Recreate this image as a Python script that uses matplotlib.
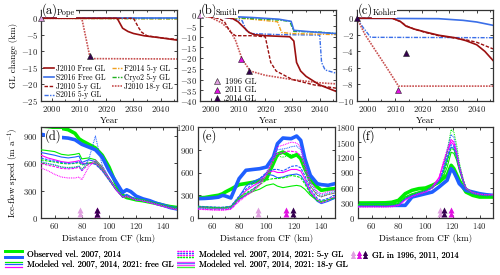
import matplotlib
matplotlib.use("Agg")
import matplotlib.pyplot as plt
from matplotlib.lines import Line2D
from matplotlib.legend_handler import HandlerBase
from matplotlib.ticker import MultipleLocator

plt.rcParams['font.family'] = ['cmr10', 'DejaVu Serif']
plt.rcParams['mathtext.fontset'] = 'cm'
plt.rcParams['axes.formatter.use_mathtext'] = True
plt.rcParams['font.size'] = 6.5

# ---------------- colours ----------------
C_J = '#9b1010'
C_J18 = '#c85050'
C_S = '#3b6fe8'
C_F = '#f0a020'
C_C = '#20b020'
G = '#00ee00'
B = '#1f5fff'
M = '#ff00ff'
GL_COLS = ['#e0a0e0', '#e010e0', '#35004f']

# ---------------- top row data (GL change, km) ----------------
a_yr_Jfree = [1996, 2024, 2025, 2026, 2028, 2030, 2034, 2040, 2046]
a_gl_Jfree = [0, 0, -1.5, -3.0, -4.0, -4.6, -5.3, -5.9, -6.6]
a_yr_J5 = [1996, 2030, 2031, 2032, 2033, 2035, 2040, 2046]
a_gl_J5 = [0, 0, -1.5, -3.0, -4.2, -5.3, -5.9, -6.4]
a_yr_J18 = [1996, 2011, 2014, 2015, 2046]
a_gl_J18 = [0, 0, -11.8, -12.2, -12.3]
a_yr_Sfree = [1996, 2046]
a_gl_Sfree = [0, 0]
a_yr_S5 = [1996, 2046]
a_gl_S5 = [0, -0.05]
a_yr_F5 = [1996, 2046]
a_gl_F5 = [0, -0.2]
a_yr_C5 = [1996, 2046]
a_gl_C5 = [0, -0.1]
a_gl_yr = [1996, 2014]
a_gl_val = [0, -11.5]
a_gl_col = [0, 2]

b_yr_Jfree = [1996, 2003, 2008, 2010, 2012, 2014, 2016, 2020, 2029, 2030.5, 2031.5, 2033, 2035, 2040, 2046]
b_gl_Jfree = [0, -0.5, -1.5, -3, -5.5, -8, -9, -9.5, -10, -12, -22, -26, -28.5, -32.5, -35.5]
b_yr_J5 = [1996, 2003, 2005, 2007, 2009, 2015, 2020, 2021, 2022, 2024, 2030, 2038, 2046]
b_gl_J5 = [0, -1.5, -3, -7.5, -9.5, -9.5, -10, -16, -22, -26, -30, -32.5, -34]
b_yr_J18 = [1996, 2000, 2004, 2007, 2009, 2011.5, 2014.5, 2020, 2030, 2040, 2046]
b_gl_J18 = [0, -1, -3.5, -7, -11.5, -20.5, -26, -28, -30, -31.5, -32]
b_yr_Sfree = [1996, 2005, 2015, 2025, 2029.5, 2030.5, 2035, 2040, 2046]
b_gl_Sfree = [0, -0.4, -1, -1.8, -2.8, -7, -7.5, -8, -8.5]
b_yr_C5 = [1996, 2005, 2015, 2025, 2029, 2030.5, 2040, 2046]
b_gl_C5 = [0, -0.8, -1.5, -2.2, -2.8, -7.5, -7.8, -8.5]
b_yr_F5 = [1996, 2005, 2015, 2024.5, 2026, 2030, 2040, 2046]
b_gl_F5 = [0, -0.8, -1.8, -3, -8, -8.5, -8.8, -9]
b_yr_S5 = [1996, 2005, 2011.5, 2013, 2015, 2025, 2040, 2040.7, 2042, 2046]
b_gl_S5 = [0, -1, -2.5, -7, -8.5, -9, -9.2, -22, -25.5, -27]
b_gl_yr = [1996, 2011, 2014]
b_gl_val = [0, -20.5, -26]
b_gl_col = [0, 1, 2]

c_yr_Sfree = [1996, 2026, 2035, 2040, 2046]
c_gl_Sfree = [0, -0.05, -0.25, -0.45, -0.85]
c_yr_Jfree = [1996, 2009, 2012, 2014, 2017, 2021, 2026, 2032, 2036, 2040, 2043, 2046]
c_gl_Jfree = [0, 0, -0.4, -0.95, -1.3, -1.65, -2.05, -2.35, -2.7, -3.2, -4.0, -5.1]
c_yr_J5 = [1996, 2009, 2012, 2014, 2017, 2021, 2026, 2032, 2036, 2040, 2043, 2046]
c_gl_J5 = [0, 0, -0.4, -0.9, -1.3, -1.7, -2.1, -2.4, -2.6, -2.9, -3.3, -3.7]
c_yr_S5 = [1996, 1998, 2001, 2046]
c_gl_S5 = [0, -1, -2.3, -2.35]
c_yr_J18 = [1996, 1999, 2003, 2007, 2010.5, 2011.2, 2046]
c_gl_J18 = [0, -2, -4, -6, -7.8, -8.2, -8.2]
c_gl_yr = [1996, 2011, 2014]
c_gl_val = [0, -8.7, -4.2]
c_gl_col = [2, 1, 2]

# ---------------- bottom row data (speed, m/a) ----------------
xd = [50, 55, 60, 65, 70, 75, 78, 80, 85, 90, 95, 100, 105, 110, 113, 116, 120, 125, 130, 135, 140, 145, 150]
d_obs07 = [1010, 1005, 995, 985, 970, 930, 870, 850, 810, 770, 690, 560, 380, 250, 225, 215, 200, 190, 175, 160, 140, 125, 115]
d_obs14 = [920, 905, 895, 885, 878, 860, 830, 810, 780, 750, 670, 520, 400, 280, 310, 290, 240, 210, 190, 160, 140, 115, 100]
d_g_free = [750, 740, 730, 700, 690, 700, 710, 650, 660, 640, 560, 440, 330, 240, 240, 225, 210, 200, 180, 160, 140, 120, 105]
d_b_free = [720, 705, 690, 670, 660, 670, 680, 610, 640, 620, 540, 430, 320, 235, 260, 235, 205, 195, 175, 155, 135, 115, 100]
d_m_free = [690, 660, 640, 620, 610, 620, 630, 600, 600, 600, 520, 420, 310, 230, 235, 220, 200, 190, 170, 150, 130, 110, 95]
d_g_5 = [640, 625, 615, 600, 595, 600, 610, 580, 610, 600, 530, 420, 320, 230, 235, 220, 205, 195, 175, 155, 135, 115, 100]
d_b_5 = [660, 640, 625, 610, 600, 605, 620, 590, 600, 590, 520, 415, 315, 228, 250, 230, 200, 190, 172, 152, 132, 112, 98]
d_m_5 = [600, 580, 565, 545, 540, 545, 560, 520, 590, 610, 540, 430, 320, 230, 235, 220, 200, 190, 170, 150, 130, 110, 95]
d_g_18 = [610, 595, 580, 560, 555, 560, 570, 540, 600, 620, 540, 430, 320, 230, 240, 220, 205, 195, 175, 155, 135, 115, 100]
d_b_18 = [620, 600, 585, 560, 550, 555, 570, 520, 640, 900, 580, 440, 320, 230, 250, 225, 200, 190, 172, 152, 132, 112, 98]
d_m_18 = [550, 520, 480, 450, 440, 440, 450, 420, 560, 640, 560, 440, 320, 230, 240, 220, 200, 190, 170, 150, 130, 110, 95]
d_gl_x = [79, 91, 91]

xe = [50, 55, 60, 65, 68, 70, 74, 80, 85, 90, 95, 100, 105, 108, 112, 115, 118, 122, 125, 128, 132, 137, 140, 145, 150]
e_obs14 = [255, 258, 264, 275, 299, 290, 264, 519, 629, 640, 650, 672, 804, 980, 1055, 1050, 1046, 1081, 1024, 782, 563, 453, 440, 431, 453]
e_obs07 = [264, 270, 286, 300, 320, 343, 380, 440, 455, 470, 490, 519, 720, 840, 870, 840, 804, 835, 782, 650, 500, 409, 365, 380, 387]
e_g_free = [140, 135, 130, 128, 128, 130, 140, 250, 300, 350, 380, 430, 450, 420, 400, 410, 420, 430, 420, 380, 300, 230, 220, 240, 260]
e_b_free = [150, 145, 140, 138, 138, 140, 150, 280, 420, 480, 520, 580, 560, 530, 540, 560, 570, 580, 560, 480, 330, 220, 190, 220, 260]
e_m_free = [145, 140, 135, 132, 132, 135, 145, 260, 360, 420, 480, 600, 620, 600, 600, 620, 640, 640, 620, 520, 350, 240, 200, 240, 280]
e_g_5 = [150, 145, 140, 138, 138, 140, 150, 270, 330, 380, 440, 500, 520, 520, 530, 540, 560, 550, 530, 450, 320, 230, 210, 240, 270]
e_b_5 = [155, 150, 145, 142, 142, 145, 155, 290, 380, 450, 520, 600, 640, 640, 620, 650, 680, 690, 660, 560, 380, 260, 230, 260, 300]
e_m_5 = [120, 115, 110, 108, 108, 110, 120, 230, 300, 360, 440, 560, 760, 850, 860, 880, 880, 870, 820, 650, 420, 300, 280, 310, 330]
e_g_18 = [150, 145, 140, 138, 138, 140, 150, 260, 320, 360, 440, 560, 780, 820, 800, 820, 840, 830, 800, 640, 420, 300, 280, 310, 330]
e_b_18 = [130, 125, 120, 118, 118, 120, 130, 240, 310, 380, 470, 600, 820, 900, 910, 920, 940, 950, 900, 700, 460, 330, 300, 330, 350]
e_m_18 = [115, 110, 105, 103, 103, 105, 115, 220, 290, 350, 430, 580, 800, 940, 960, 980, 1000, 990, 930, 720, 480, 350, 320, 350, 370]
e_gl_x = [94, 114, 119]

xf = [50, 55, 60, 65, 70, 75, 80, 85, 90, 95, 100, 105, 110, 113, 116, 119, 121, 123, 125, 128, 130, 135, 140, 145, 150]
f_obs14 = [250, 250, 250, 250, 250, 250, 250, 250, 415, 448, 481, 514, 613, 680, 745, 976, 910, 800, 679, 600, 547, 514, 481, 460, 448]
f_obs07 = [297, 297, 298, 299, 300, 310, 349, 481, 547, 580, 593, 646, 712, 780, 844, 1042, 976, 860, 745, 600, 514, 448, 415, 415, 415]
f_g_free = [270, 270, 270, 270, 270, 275, 300, 420, 480, 520, 560, 620, 700, 800, 1000, 1300, 1280, 1150, 950, 700, 580, 480, 440, 420, 420]
f_b_free = [240, 240, 240, 240, 240, 245, 270, 390, 460, 500, 540, 600, 720, 900, 1150, 1400, 1380, 1200, 980, 720, 580, 480, 450, 440, 440]
f_m_free = [230, 230, 230, 230, 230, 235, 260, 370, 440, 490, 530, 620, 800, 1050, 1300, 1500, 1450, 1250, 1000, 720, 580, 490, 460, 450, 450]
f_g_5 = [260, 260, 260, 260, 260, 265, 290, 410, 470, 510, 550, 610, 700, 850, 1100, 1380, 1350, 1200, 980, 720, 580, 480, 440, 430, 430]
f_b_5 = [235, 235, 235, 235, 235, 240, 265, 380, 450, 495, 540, 610, 750, 950, 1200, 1450, 1420, 1250, 1000, 730, 590, 490, 460, 450, 450]
f_m_5 = [225, 225, 225, 225, 225, 230, 255, 360, 430, 480, 520, 600, 780, 1050, 1300, 1550, 1500, 1300, 1020, 740, 590, 500, 470, 460, 460]
f_g_18 = [255, 255, 255, 255, 255, 260, 285, 400, 460, 500, 540, 600, 690, 850, 1300, 1750, 1700, 1450, 1100, 760, 600, 500, 460, 450, 450]
f_b_18 = [230, 230, 230, 230, 230, 235, 260, 370, 440, 490, 530, 600, 720, 950, 1350, 1650, 1600, 1350, 1050, 740, 590, 490, 460, 450, 450]
f_m_18 = [215, 215, 215, 215, 215, 220, 245, 350, 420, 470, 510, 580, 760, 1100, 1350, 1550, 1500, 1300, 1020, 740, 590, 500, 470, 460, 460]
f_gl_x = [111, 119, 114]

# ---------------- figure ----------------
fig = plt.figure(figsize=(5, 2.75), dpi=100)
W, H = 500, 275

def add_ax(l, r, t, b):
    return fig.add_axes([l / W, 1 - b / H, (r - l) / W, (b - t) / H])

ax_a = add_ax(41, 177, 10, 101)
ax_b = add_ax(200, 336, 10, 101)
ax_c = add_ax(357, 493, 10, 101)
ax_d = add_ax(41, 177, 127, 218)
ax_e = add_ax(198, 335, 127, 218)
ax_f = add_ax(358, 493, 127, 218)

def style(ax):
    ax.tick_params(direction='in', top=True, right=True, length=2.5, width=0.6,
                   labelsize=6.3, pad=2, colors='#222222')
    ax.tick_params(which='minor', direction='in', top=True, right=True, length=1.5, width=0.5)
    for s in ax.spines.values():
        s.set_linewidth(0.9)
        s.set_color('#333333')

def plot_top(ax, d):
    for (x, y, c, ls, lw) in d:
        ax.plot(x, y, color=c, ls=ls, lw=lw)

LS_J5 = (0, (2.5, 1.2))
LS_DD = (0, (3, 1, 1, 1))
LS_18 = (0, (1, 0.7))

lines_a = [
    (a_yr_S5, a_gl_S5, C_S, LS_DD, 1.0),
    (a_yr_F5, a_gl_F5, C_F, LS_DD, 1.0),
    (a_yr_C5, a_gl_C5, C_C, LS_DD, 1.0),
    (a_yr_Sfree, a_gl_Sfree, C_S, '-', 1.2),
    (a_yr_J18, a_gl_J18, C_J18, LS_18, 1.2),
    (a_yr_J5, a_gl_J5, C_J, LS_J5, 1.0),
    (a_yr_Jfree, a_gl_Jfree, C_J, '-', 1.2),
]
lines_b = [
    (b_yr_S5, b_gl_S5, C_S, LS_DD, 1.0),
    (b_yr_F5, b_gl_F5, C_F, LS_DD, 1.0),
    (b_yr_C5, b_gl_C5, C_C, LS_DD, 1.0),
    (b_yr_Sfree, b_gl_Sfree, C_S, '-', 1.2),
    (b_yr_J18, b_gl_J18, C_J18, LS_18, 1.2),
    (b_yr_J5, b_gl_J5, C_J, LS_J5, 1.0),
    (b_yr_Jfree, b_gl_Jfree, C_J, '-', 1.2),
]
lines_c = [
    (c_yr_S5, c_gl_S5, C_S, LS_DD, 1.0),
    (c_yr_Sfree, c_gl_Sfree, C_S, '-', 1.2),
    (c_yr_J18, c_gl_J18, C_J18, LS_18, 1.2),
    (c_yr_J5, c_gl_J5, C_J, LS_J5, 1.0),
    (c_yr_Jfree, c_gl_Jfree, C_J, '-', 1.2),
]

for ax, lns, yl, step, gx, gy, gc in [
        (ax_a, lines_a, (-25, 2.5), 5, a_gl_yr, a_gl_val, a_gl_col),
        (ax_b, lines_b, (-40, 2.5), 5, b_gl_yr, b_gl_val, b_gl_col),
        (ax_c, lines_c, (-10, 1.0), 2, c_gl_yr, c_gl_val, c_gl_col)]:
    plot_top(ax, lns)
    for x, y, ci in zip(gx, gy, gc):
        ax.plot([x], [y], marker='^', ms=4.5, color=GL_COLS[ci], mec='#222222', mew=0.4,
                ls='none', clip_on=False, zorder=5)
    ax.set_xlim(1996, 2046)
    ax.set_ylim(*yl)
    ax.xaxis.set_major_locator(MultipleLocator(10))
    ax.xaxis.set_minor_locator(MultipleLocator(5))
    ax.yaxis.set_major_locator(MultipleLocator(step))
    ax.set_xlabel('Year', fontsize=6.5, labelpad=2)
    style(ax)

ax_a.set_ylabel('GL change (km)', fontsize=6.5, labelpad=2)

# legend panel (a)
h_leg = [
    Line2D([], [], color=C_J, ls='-', lw=1.2),
    Line2D([], [], color=C_S, ls='-', lw=1.2),
    Line2D([], [], color=C_J, ls=LS_J5, lw=1.0),
    Line2D([], [], color=C_S, ls=LS_DD, lw=1.0),
    Line2D([], [], color=C_F, ls=LS_DD, lw=1.0),
    Line2D([], [], color=C_C, ls=LS_DD, lw=1.0),
    Line2D([], [], color=C_J18, ls=LS_18, lw=1.2),
]
l_leg = ['J2010 Free GL', 'S2016 Free GL', 'J2010 5-y GL', 'S2016 5-y GL',
         'F2014 5-y GL', 'Cryo2 5-y GL', 'J2010 18-y GL']
ax_a.legend(h_leg, l_leg, ncol=2, loc='lower left', bbox_to_anchor=(0.01, 0.0),
            frameon=False, fontsize=5.5, handlelength=1.3, handletextpad=0.25,
            columnspacing=0.9, labelspacing=0.05, borderaxespad=0.1, borderpad=0.1)

hb = [Line2D([], [], marker='^', ms=4, color=c, mec='#222222', mew=0.4, ls='none') for c in GL_COLS]
ax_b.legend(hb, ['1996 GL', '2011 GL', '2014 GL'], loc='lower left', bbox_to_anchor=(0.05, -0.08),
            frameon=False, fontsize=6.0, handlelength=1.2, handletextpad=0.4,
            labelspacing=0.05, borderpad=0.1)

# panel titles
for ax, lab, name, dx in [(ax_a, '(a)', 'Pope', 0.118), (ax_b, '(b)', 'Smith', 0.115), (ax_c, '(c)', 'Kohler', 0.115)]:
    ax.text(0.005, 1.0, lab, transform=ax.transAxes, ha='left', va='center', fontsize=9,
            bbox=dict(fc='white', ec='none', pad=0.1), zorder=10)
    ax.text(dx, 0.965, name, transform=ax.transAxes, ha='left', va='center', fontsize=6,
            bbox=dict(fc='white', ec='none', pad=0.2), zorder=10)

# bottom panels
def plot_bottom(ax, x, obs07, obs14, gf, bf, mf, g5, b5, m5, g18, b18, m18, glx, ylim, lab):
    ax.plot(x, obs07, color=G, lw=2.6, zorder=2)
    ax.plot(x, obs14, color=B, lw=2.6, zorder=2)
    for y, c in [(gf, G), (bf, B), (mf, M)]:
        ax.plot(x, y, color=c, lw=0.8, ls='-', zorder=3)
    for y, c in [(g5, G), (b5, B), (m5, M)]:
        ax.plot(x, y, color=c, lw=0.8, ls=(0, (2.5, 1)), zorder=3)
    for y, c in [(g18, G), (b18, B), (m18, M)]:
        ax.plot(x, y, color=c, lw=0.8, ls=(0, (0.8, 0.8)), zorder=3)
    tr = ax.get_xaxis_transform()
    for gxv, c in zip(glx, GL_COLS):
        for yy in (0.04, 0.09):
            ax.plot([gxv], [yy], marker='^', ms=4, color=c, mec='none', ls='none',
                    transform=tr, zorder=4)
    ax.set_xlim(50, 150)
    ax.set_ylim(*ylim)
    ax.xaxis.set_major_locator(MultipleLocator(20))
    ax.xaxis.set_minor_locator(MultipleLocator(10))
    ax.yaxis.set_major_locator(MultipleLocator(300))
    ax.set_xlabel('Distance from CF (km)', fontsize=6.5, labelpad=2)
    ax.text(0.03, 0.9, lab, transform=ax.transAxes, ha='left', va='center', fontsize=9,
            bbox=dict(fc='white', ec='none', pad=0.3), zorder=10)
    style(ax)

plot_bottom(ax_d, xd, d_obs07, d_obs14, d_g_free, d_b_free, d_m_free, d_g_5, d_b_5, d_m_5,
            d_g_18, d_b_18, d_m_18, d_gl_x, (0, 1000), '(d)')
plot_bottom(ax_e, xe, e_obs07, e_obs14, e_g_free, e_b_free, e_m_free, e_g_5, e_b_5, e_m_5,
            e_g_18, e_b_18, e_m_18, e_gl_x, (0, 1200), '(e)')
plot_bottom(ax_f, xf, f_obs07, f_obs14, f_g_free, f_b_free, f_m_free, f_g_5, f_b_5, f_m_5,
            f_g_18, f_b_18, f_m_18, f_gl_x, (0, 1800), '(f)')
ax_d.set_ylabel('Ice-flow speed (m a$^{-1}$)', fontsize=6.5, labelpad=2)

# ---------------- bottom figure legend ----------------
class MultiLine(HandlerBase):
    def __init__(self, specs):
        super().__init__()
        self.specs = specs

    def create_artists(self, legend, orig_handle, xdescent, ydescent, width, height, fontsize, trans):
        arts = []
        n = len(self.specs)
        for i, (c, ls, lw) in enumerate(self.specs):
            frac = 0.5 if n == 1 else 0.95 - 0.9 * i / (n - 1)
            y = -ydescent + height * frac
            arts.append(Line2D([-xdescent, -xdescent + width], [y, y], color=c, ls=ls, lw=lw,
                               transform=trans))
        return arts

class Triangles(HandlerBase):
    def create_artists(self, legend, orig_handle, xdescent, ydescent, width, height, fontsize, trans):
        arts = []
        for i, c in enumerate(GL_COLS):
            x = -xdescent + width * (0.15 + 0.35 * i)
            for yy in (0.15, 0.65):
                arts.append(Line2D([x], [-ydescent + height * yy], marker='^', ms=3.5, color=c,
                                   mec='none', ls='none', transform=trans))
        return arts

h_obs = Line2D([], [])
h_free = Line2D([], [])
h_5 = Line2D([], [])
h_18 = Line2D([], [])
h_gl = Line2D([], [])
dash = (0, (1.5, 0.8))
dot = (0, (0.8, 0.8))
hmap = {
    h_obs: MultiLine([(G, '-', 2.0), (B, '-', 2.0)]),
    h_free: MultiLine([(G, '-', 0.8), (B, '-', 0.8), (M, '-', 0.8)]),
    h_5: MultiLine([(M, dash, 0.9), (B, dash, 0.9), (M, dash, 0.9), (G, dash, 0.9)]),
    h_18: MultiLine([(M, dot, 0.9), (B, dot, 0.9), (M, dot, 0.9), (G, dot, 0.9)]),
    h_gl: Triangles(),
}
leg_kw = dict(handler_map=hmap, loc='center left', frameon=False, fontsize=6.2,
              handlelength=2.0, handletextpad=0.6, labelspacing=0.2, borderpad=0.0,
              borderaxespad=0.0)
for hs, ls_, x0 in [([h_obs, h_free], ['Observed vel. 2007, 2014',
                                        'Modeled vel. 2007, 2014, 2021: free GL'], 5),
                    ([h_5, h_18], ['Modeled vel. 2007, 2014, 2021: 5-y GL',
                                   'Modeled vel. 2007, 2014, 2021: 18-y GL'], 177),
                    ([h_gl, Line2D([], [], ls='none')], ['GL in 1996, 2011, 2014', ' '], 350)]:
    lg = fig.legend(hs, ls_, bbox_to_anchor=(x0 / W, 1 - 260 / H), **leg_kw)
    fig.add_artist(lg)

fig.savefig('out.png', dpi=100)
